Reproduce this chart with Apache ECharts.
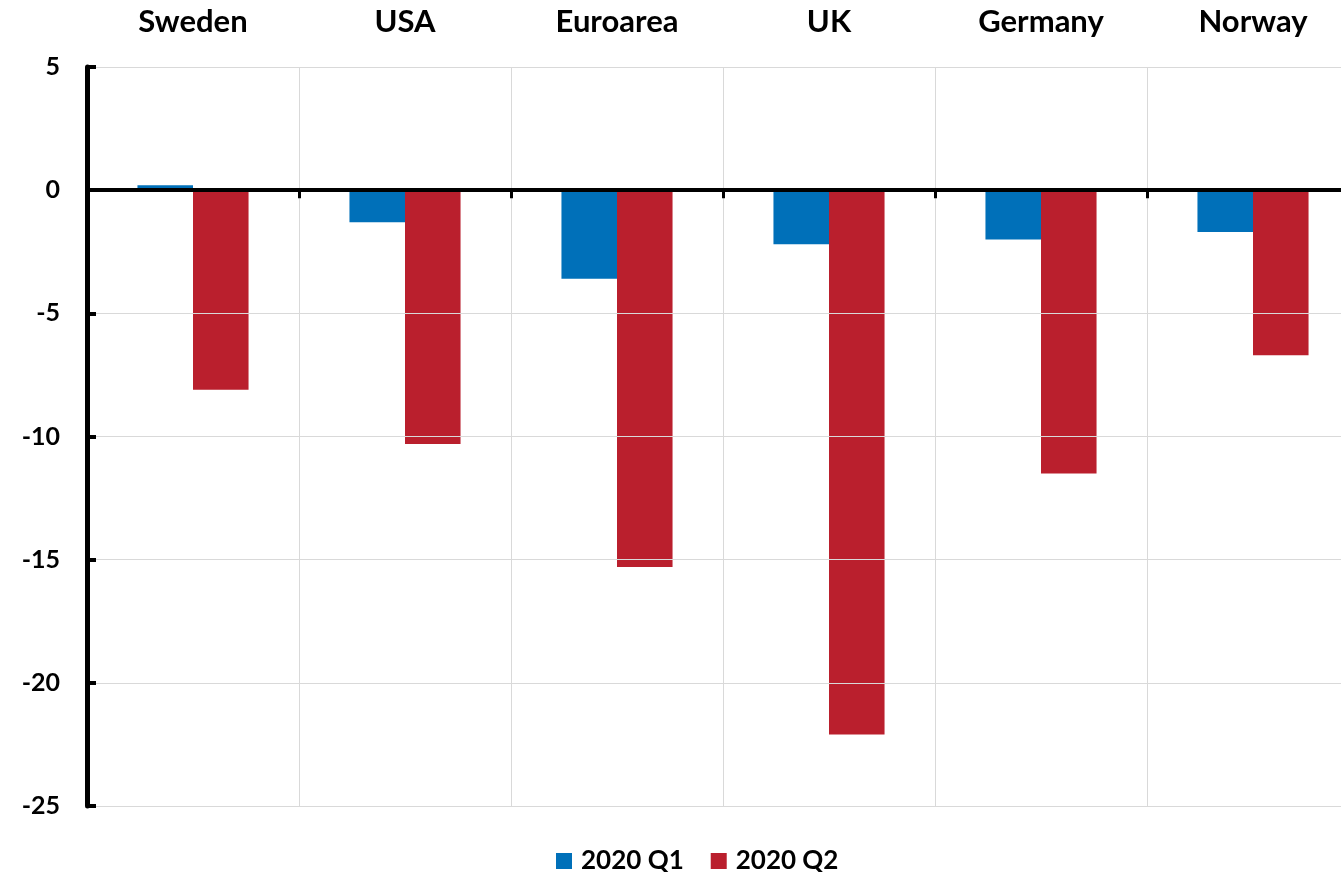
<!DOCTYPE html>
<html>
<head>
<meta charset="utf-8">
<title>GDP change 2020 Q1 and Q2</title>
<script src="https://cdn.jsdelivr.net/npm/echarts@6/dist/echarts.min.js"></script>
<style>
  html, body { margin: 0; padding: 0; background: #ffffff; overflow: hidden; }
  /* drawing surface is slightly wider than the window; the last column runs off the edge */
  #chart { width: 1359px; height: 872px; }
</style>
</head>
<body>
<div id="chart"></div>
<script>
// Countries along the category axis
const countries = ['Sweden', 'USA', 'Euroarea', 'UK', 'Germany', 'Norway'];
// Quarterly GDP change, per cent
const q1Values = [0.2, -1.3, -3.6, -2.2, -2.0, -1.7];
const q2Values = [-8.1, -10.3, -15.3, -22.1, -11.5, -6.7];
const seriesNames = ['2020 Q1', '2020 Q2'];
// Value axis range
const yMin = -25;
const yMax = 5;
const yStep = 5;

const FONT = 'Lato, "Noto Sans", sans-serif';
const BLUE = '#0070B9';
const RED = '#BA1F2D';
const GRID_GREY = '#d9d9d9';

const chart = echarts.init(document.getElementById('chart'), null, { renderer: 'canvas' });

chart.setOption({
  animation: false,
  backgroundColor: '#ffffff',
  grid: { left: 87, right: 0, top: 67, bottom: 66, containLabel: false },
  legend: {
    data: seriesNames,
    top: 843,
    left: 551,
    icon: 'rect',
    itemWidth: 16,
    itemHeight: 16,
    itemGap: 27,
    textStyle: {
      fontFamily: FONT, fontWeight: 'bold', fontSize: 26, color: '#000',
      padding: [0, 0, 0, 4]
    }
  },
  xAxis: [
    {
      // zero line with ticks between categories
      type: 'category',
      data: countries,
      z: 3,
      axisLine: { onZero: true, lineStyle: { color: '#000', width: 4 } },
      axisTick: { show: true, length: 8, lineStyle: { color: '#000', width: 3 } },
      axisLabel: { show: false },
      splitLine: { show: true, lineStyle: { color: GRID_GREY, width: 1 } }
    },
    {
      // country names across the top
      type: 'category',
      data: countries,
      position: 'top',
      axisLine: { show: false, onZero: false },
      axisTick: { show: false },
      splitLine: { show: false },
      axisLabel: {
        margin: 30,
        fontFamily: FONT, fontWeight: 'bold', fontSize: 31, color: '#000'
      }
    }
  ],
  yAxis: {
    type: 'value',
    min: yMin,
    max: yMax,
    interval: yStep,
    z: 3,
    axisLine: { show: true, onZero: false, lineStyle: { color: '#000', width: 5 } },
    axisTick: { show: true, inside: true, length: 9, lineStyle: { color: '#000', width: 4 } },
    splitLine: { show: true, lineStyle: { color: GRID_GREY, width: 1 } },
    axisLabel: {
      margin: 27,
      fontFamily: FONT, fontWeight: 'bold', fontSize: 25, color: '#000'
    }
  },
  series: [
    {
      name: seriesNames[0],
      type: 'bar',
      xAxisIndex: 0,
      data: q1Values,
      itemStyle: { color: BLUE },
      barGap: '0%',
      barCategoryGap: '47.6%'
    },
    {
      name: seriesNames[1],
      type: 'bar',
      xAxisIndex: 0,
      data: q2Values,
      itemStyle: { color: RED },
      barGap: '0%',
      barCategoryGap: '47.6%'
    }
  ]
});
</script>
</body>
</html>
